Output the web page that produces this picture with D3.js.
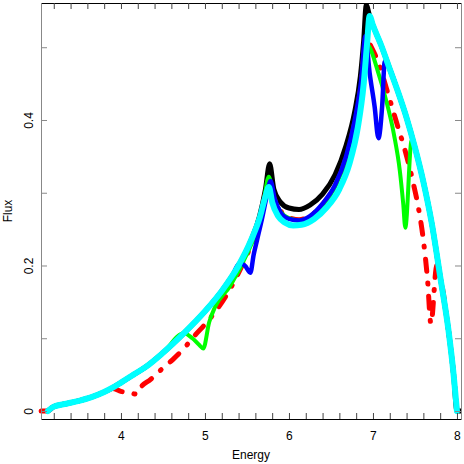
<!DOCTYPE html>
<html>
<head>
<meta charset="utf-8">
<script src="https://cdn.jsdelivr.net/npm/d3@7"></script>
<style>
  html, body { margin: 0; padding: 0; background: #fff; }
  text { font-family: "Liberation Sans", Arial, sans-serif; }
</style>
</head>
<body>
<svg id="chart"></svg>
<script>
// tick values / labels
const xMajor = [4, 5, 6, 7, 8];
const xMinor = d3.range(3.2, 8.01, 0.2).map(d => +d.toFixed(1));
const yTicks = [0, 0.1, 0.2, 0.3, 0.4, 0.5];
const yLabels = [0, 0.2, 0.4];

// series: [energy, flux]
const blackPts = [[3.13,0],[3.2,0.006],[3.35,0.010],[3.5,0.014],[3.65,0.019],[3.8,0.026],[3.9,0.032],
  [4.0,0.039],[4.15,0.050],[4.3,0.061],[4.5,0.080],[4.75,0.107],[5.0,0.137],[5.2,0.165],[5.4,0.200],
  [5.55,0.235],[5.65,0.268],[5.72,0.305],[5.77,0.340],[5.82,0.305],[5.9,0.287],[6.0,0.279],[6.12,0.277],
  [6.25,0.283],[6.4,0.298],[6.55,0.325],[6.68,0.365],[6.78,0.410],[6.85,0.460],[6.89,0.510],[6.92,0.558],
  [6.96,0.543],[7.0,0.530],[7.1,0.502],[7.2,0.470],[7.3,0.438],[7.4,0.403],[7.5,0.362],[7.6,0.315],
  [7.7,0.258],[7.8,0.185],[7.9,0.110],[7.96,0.050],[8.0,0],[8.05,0]];

const redPts = [[3.05,0],[3.13,0],[3.2,0.006],[3.35,0.010],[3.5,0.014],[3.65,0.019],[3.8,0.026],[3.9,0.031],
  [4.0,0.027],[4.1,0.025],[4.19,0.023],[4.24,0.033],[4.35,0.043],[4.5,0.059],[4.62,0.071],[4.75,0.086],
  [4.88,0.104],[5.0,0.119],[5.12,0.136],[5.3,0.168],[5.45,0.202],[5.6,0.245],[5.7,0.288],[5.76,0.318],
  [5.82,0.293],[5.9,0.275],[6.0,0.266],[6.12,0.263],[6.25,0.268],[6.4,0.284],[6.55,0.310],[6.68,0.348],
  [6.78,0.395],[6.86,0.450],[6.92,0.515],[6.96,0.505],[7.05,0.483],[7.2,0.428],[7.29,0.393],[7.38,0.359],
  [7.48,0.313],[7.54,0.280],[7.6,0.235],[7.65,0.180],[7.69,0.120],[7.76,0.200],[7.8,0.185],[7.9,0.110],
  [7.96,0.050],[8.0,0]];

const greenPts = [[3.13,0],[3.2,0.006],[3.35,0.010],[3.5,0.014],[3.65,0.019],[3.8,0.026],[3.9,0.032],
  [4.0,0.039],[4.15,0.050],[4.3,0.061],[4.5,0.080],[4.75,0.107],[4.85,0.100],[4.93,0.091],[4.98,0.086],
  [5.05,0.122],[5.12,0.143],[5.3,0.172],[5.5,0.216],[5.62,0.250],[5.7,0.290],[5.76,0.322],[5.82,0.293],
  [5.9,0.274],[6.0,0.265],[6.12,0.262],[6.25,0.267],[6.4,0.283],[6.55,0.308],[6.68,0.346],[6.78,0.392],
  [6.86,0.448],[6.92,0.505],[6.96,0.500],[7.05,0.470],[7.15,0.430],[7.25,0.380],[7.32,0.330],[7.36,0.285],
  [7.385,0.252],[7.46,0.372],[7.5,0.362],[7.6,0.315],[7.7,0.258],[7.8,0.185],[7.9,0.110],[7.96,0.050],[8.0,0]];

const bluePts = [[3.13,0],[3.2,0.006],[3.35,0.010],[3.5,0.014],[3.65,0.019],[3.8,0.026],[3.9,0.032],
  [4.0,0.039],[4.15,0.050],[4.3,0.061],[4.5,0.080],[4.75,0.107],[5.0,0.137],[5.2,0.165],[5.3,0.180],
  [5.42,0.203],[5.48,0.199],[5.54,0.190],[5.58,0.215],[5.62,0.235],[5.68,0.265],[5.74,0.298],
  [5.78,0.316],[5.83,0.292],[5.9,0.273],[6.0,0.264],[6.12,0.262],[6.25,0.268],[6.4,0.285],[6.55,0.311],
  [6.68,0.350],[6.78,0.398],[6.86,0.455],[6.91,0.515],[6.96,0.465],[7.02,0.418],[7.065,0.375],[7.11,0.420],
  [7.14,0.480],[7.2,0.470],[7.3,0.438],[7.4,0.403],[7.5,0.362],[7.6,0.315],[7.7,0.258],[7.8,0.185],
  [7.9,0.110],[7.96,0.050],[8.0,0]];

const cyanPts = [[3.13,0],[3.2,0.006],[3.35,0.010],[3.5,0.014],[3.65,0.019],[3.8,0.026],[3.9,0.032],
  [4.0,0.039],[4.15,0.050],[4.3,0.061],[4.5,0.080],[4.75,0.107],[5.0,0.137],[5.2,0.165],[5.4,0.200],
  [5.55,0.235],[5.65,0.265],[5.72,0.295],[5.76,0.308],[5.8,0.287],[5.87,0.268],[5.95,0.259],[6.05,0.255],
  [6.15,0.256],[6.3,0.264],[6.45,0.280],[6.6,0.305],[6.72,0.340],[6.82,0.390],[6.89,0.450],[6.93,0.505],
  [6.96,0.543],[7.0,0.530],[7.1,0.502],[7.2,0.470],[7.3,0.438],[7.4,0.403],[7.5,0.362],[7.6,0.315],
  [7.7,0.258],[7.8,0.185],[7.9,0.110],[7.96,0.050],[8.0,0]];

const series = [
  { pts: blackPts, color: "#000000", w: 5 },
  { pts: redPts,   color: "#ff0000", w: 5, dash: "1,12,12,12", offset: 13 },
  { pts: greenPts, color: "#00ff00", w: 4 },
  { pts: bluePts,  color: "#0000ff", w: 4.5 },
  { pts: cyanPts,  color: "#00ffff", w: 6 }
];

const width = 464, height = 464;
const margin = { top: 3, right: 3, bottom: 45, left: 41 };

const svg = d3.select("#chart").attr("width", width).attr("height", height);

const x = d3.scaleLinear().domain([3.048, 8.048]).range([margin.left, width - margin.right]);
const y = d3.scaleLinear().domain([-0.011, 0.5608]).range([height - margin.bottom, margin.top]);

svg.append("clipPath").attr("id", "clip").append("rect")
  .attr("x", margin.left - 3).attr("y", margin.top)
  .attr("width", width - margin.left - margin.right + 3)
  .attr("height", height - margin.top - margin.bottom);

const line = d3.line().x(d => x(d[0])).y(d => y(d[1])).curve(d3.curveMonotoneX);

const g = svg.append("g").attr("clip-path", "url(#clip)");
series.forEach(s => {
  g.append("path")
    .datum(s.pts)
    .attr("fill", "none")
    .attr("stroke", s.color)
    .attr("stroke-width", s.w)
    .attr("stroke-linejoin", "round")
    .attr("stroke-linecap", "round")
    .attr("stroke-dasharray", s.dash || null)
    .attr("stroke-dashoffset", s.offset || null)
    .attr("d", line);
});

// axes, ticks pointing inward
const axBottom = svg.append("g")
  .attr("transform", `translate(0,${height - margin.bottom})`)
  .call(d3.axisBottom(x).tickValues(xMinor).tickSizeInner(-6).tickSizeOuter(0).tickPadding(12)
    .tickFormat(d => xMajor.includes(d) ? d3.format("d")(d) : ""));
axBottom.select(".domain").attr("stroke", "#000");
axBottom.selectAll(".tick line").attr("stroke", "#444");
axBottom.selectAll("text").attr("font-size", 12).attr("fill", "#000");

const axTop = svg.append("g")
  .attr("transform", `translate(0,${margin.top})`)
  .call(d3.axisTop(x).tickValues(xMinor).tickSizeInner(-6).tickSizeOuter(0).tickFormat(""));
axTop.select(".domain").attr("stroke", "#000");
axTop.selectAll(".tick line").attr("stroke", "#444");

const axLeft = svg.append("g")
  .attr("transform", `translate(${margin.left},0)`)
  .call(d3.axisLeft(y).tickValues(yTicks).tickSizeInner(-6).tickSizeOuter(0)
    .tickFormat(d => yLabels.includes(d) ? (d === 0 ? "0" : d3.format(".1f")(d)) : ""));
axLeft.select(".domain").attr("stroke", "#888");
axLeft.selectAll(".tick line").attr("stroke", "#888");
axLeft.selectAll("text")
  .attr("font-size", 12).attr("fill", "#000")
  .attr("x", 0).attr("dy", 0)
  .attr("text-anchor", "middle")
  .attr("transform", "translate(-8,0) rotate(-90)");

const axRight = svg.append("g")
  .attr("transform", `translate(${width - margin.right},0)`)
  .call(d3.axisRight(y).tickValues(yTicks).tickSizeInner(-6).tickSizeOuter(0).tickFormat(""));
axRight.select(".domain").attr("stroke", "#888");
axRight.selectAll(".tick line").attr("stroke", "#888");

svg.append("text")
  .attr("x", (margin.left + width - margin.right) / 2)
  .attr("y", 459)
  .attr("text-anchor", "middle")
  .attr("font-size", 12)
  .text("Energy");

svg.append("text")
  .attr("transform", `translate(12,${(margin.top + height - margin.bottom) / 2}) rotate(-90)`)
  .attr("text-anchor", "middle")
  .attr("font-size", 12)
  .text("Flux");
</script>
</body>
</html>
